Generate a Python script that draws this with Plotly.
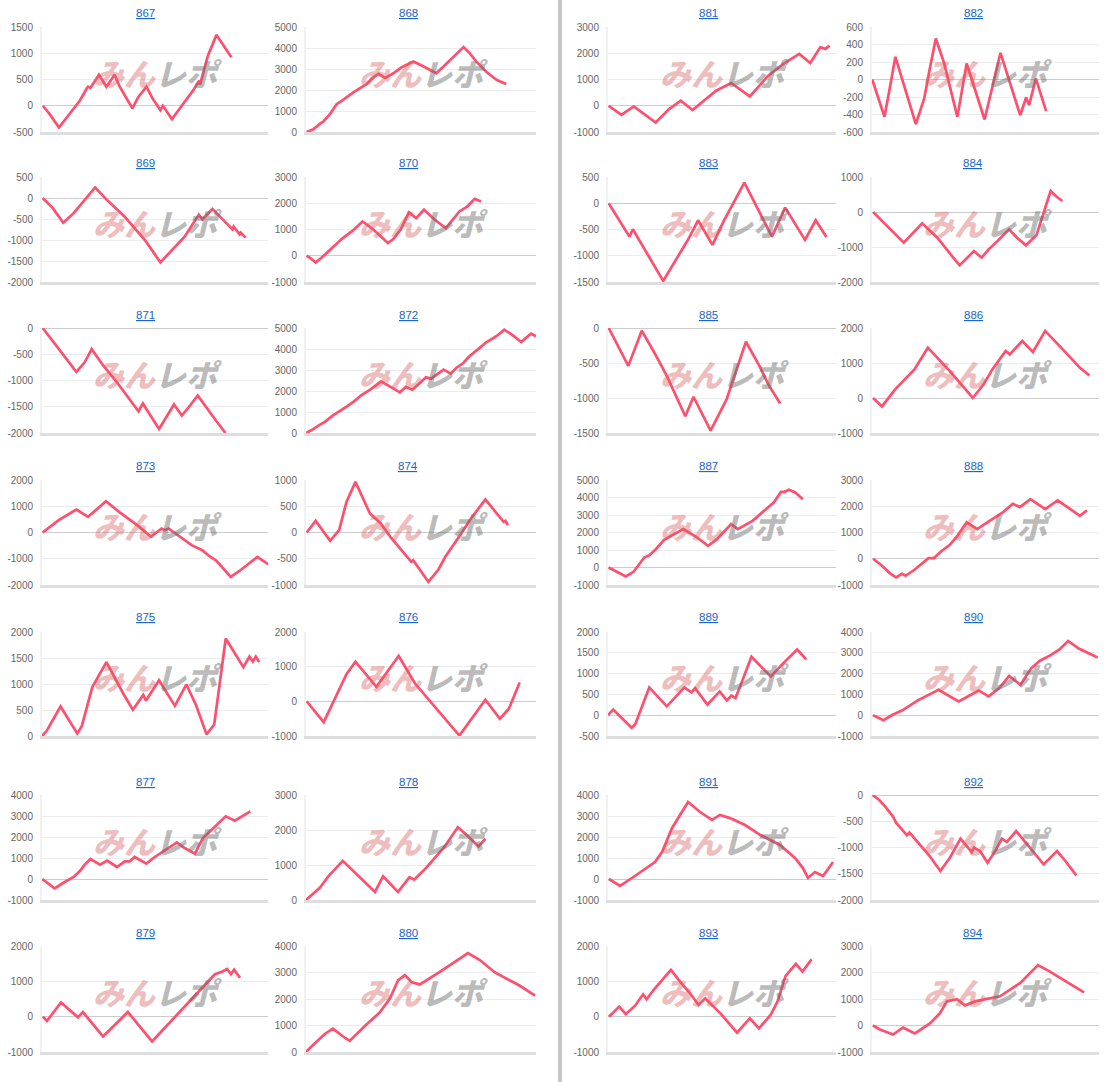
import plotly.graph_objects as go

W, H = 1116, 1082

# ---------------- data (x = play progress in % of the axis, y = coin difference) -------------
machines = list(range(867, 895))

x_867 = [0.4, 3.4, 7.5, 11.5, 16.7, 19.9, 20.4, 21.4, 25.2, 28.5, 32.1, 34.4, 37.0, 40.0, 42.5, 46.2, 49.1, 52.4, 53.5, 57.5, 62.4, 66.8, 69.5, 69.9, 73.4, 77.2, 83.8]
y_867 = [0, -160, -414, -190, 95, 338, 363, 338, 592, 363, 592, 363, 159, -51, 159, 363, 127, -83, 0, -255, 32, 287, 478, 401, 955, 1350, 924]

x_868 = [0.3, 3.2, 6.1, 7.5, 10.4, 13.3, 15.5, 18.4, 20.6, 23.5, 26.4, 29.3, 31.5, 34.4, 38.0, 41.6, 46.7, 51.8, 56.6, 59.8, 63.8, 68.5, 71.4, 74.3, 78.6, 83.0, 87.1]
y_868 = [0, 128, 400, 495, 847, 1326, 1486, 1725, 1885, 2093, 2284, 2604, 2764, 2572, 2796, 3083, 3355, 3083, 2796, 3115, 3562, 4042, 3722, 3323, 2843, 2476, 2284]

x_869 = [0.3, 4.7, 9.4, 14.1, 23.5, 28.6, 36.4, 45.8, 52.4, 58.4, 63.1, 69.4, 71.0, 75.4, 80.4, 84.3, 84.8, 87.4, 87.9, 90.1]
y_869 = [0, -236, -590, -354, 252, -39, -432, -1022, -1533, -1179, -920, -393, -511, -259, -527, -747, -684, -865, -826, -943]

x_870 = [0.3, 1.9, 4.2, 6.6, 11.3, 16.0, 19.9, 24.6, 29.4, 35.6, 38.0, 41.1, 44.7, 47.9, 51.3, 56.0, 60.8, 63.1, 66.7, 70.2, 73.3, 76.1]
y_870 = [0, -89, -254, -89, 292, 673, 927, 1308, 990, 483, 635, 990, 1651, 1435, 1752, 1371, 1054, 1308, 1689, 1879, 2171, 2070]

x_871 = [0.3, 15.2, 18.8, 22.0, 27.0, 33.3, 42.7, 44.6, 47.7, 51.8, 58.4, 61.9, 65.5, 68.9, 77.2, 81.2]
y_871 = [0, -837, -658, -403, -709, -1042, -1585, -1438, -1649, -1923, -1457, -1668, -1476, -1284, -1776, -2000]

x_872 = [0, 2.3, 5.4, 8.5, 11.6, 14.7, 17.8, 20.9, 24.0, 27.9, 32.6, 36.4, 40.8, 43.4, 46.2, 49.6, 52.1, 54.4, 59.8, 62.9, 65.3, 68.4, 70.7, 74.6, 78.4, 83.1, 86.2, 90.1, 93.6, 97.8, 100]
y_872 = [0, 127, 349, 556, 825, 1032, 1270, 1508, 1794, 2063, 2460, 2222, 1937, 2190, 2063, 2381, 2651, 2587, 3016, 2825, 3095, 3333, 3619, 3968, 4317, 4635, 4921, 4635, 4333, 4730, 4603]

x_873 = [0.3, 7.4, 15.2, 20.4, 28.3, 34.1, 42.7, 48.2, 52.9, 54.4, 56.0, 61.5, 66.2, 70.9, 74.1, 77.2, 80.4, 83.5, 88.2, 91.7, 95.3, 100]
y_873 = [0, 470, 876, 597, 1194, 787, 241, -165, 152, 89, 152, -190, -483, -673, -902, -1079, -1371, -1689, -1410, -1181, -927, -1206]

x_874 = [0.3, 4.2, 10.5, 14.4, 17.6, 21.5, 27.8, 32.5, 37.2, 45.8, 46.6, 53.2, 57.6, 60.7, 67.0, 71.7, 78.0, 85.9, 86.7, 87.8]
y_874 = [0, 222, -159, 44, 584, 965, 362, 171, -114, -559, -527, -940, -705, -451, -51, 267, 629, 203, 222, 140]

x_875 = [0, 2.0, 8.2, 15.6, 17.6, 22.3, 28.5, 36.3, 40.2, 44.8, 46.0, 51.8, 58.8, 63.9, 68.1, 72.8, 76.2, 81.3, 89.1, 91.8, 93.3, 94.6, 96.1]
y_875 = [0, 95, 568, 50, 189, 946, 1420, 789, 505, 789, 681, 1073, 580, 991, 599, 32, 221, 1874, 1325, 1527, 1432, 1527, 1420]

x_876 = [0.3, 7.7, 17.6, 21.5, 30.6, 40.3, 47.4, 66.7, 78.0, 84.3, 88.2, 92.9]
y_876 = [0, -600, 784, 1142, 416, 1307, 513, -987, 48, -503, -213, 542]

x_877 = [0.1, 2.7, 5.6, 9.3, 14.0, 16.7, 18.9, 21.4, 25.7, 28.8, 33.2, 36.6, 38.8, 41.0, 46.2, 49.9, 53.5, 56.5, 59.7, 63.1, 67.6, 71.2, 74.2, 77.9, 81.3, 85.3, 89.0, 92.2]
y_877 = [0, -190, -444, -190, 95, 365, 683, 952, 683, 873, 571, 841, 841, 1048, 730, 1048, 1317, 1508, 1746, 1476, 1206, 1952, 2270, 2635, 2984, 2778, 3016, 3222]

x_878 = [0, 6, 10, 16, 30, 33.5, 40, 45, 47, 52, 60, 66, 70, 75, 78]
y_878 = [0, 350, 700, 1120, 230, 680, 230, 650, 580, 900, 1500, 2080, 1850, 1530, 1750]

x_879 = [0.4, 2.2, 8.4, 15.9, 18.1, 27.0, 38.0, 48.7, 76.5, 79.6, 81.9, 83.6, 85.0, 87.6]
y_879 = [0, -120, 400, -20, 130, -560, 130, -700, 1200, 1270, 1350, 1200, 1330, 1100]

x_880 = [0, 2.6, 8.3, 11.7, 17, 19, 25.7, 32, 36.5, 40, 43, 46, 49.5, 54, 58, 62.6, 67, 70.4, 75.6, 82, 88.7, 93, 99.6]
y_880 = [0, 230, 690, 880, 530, 420, 990, 1490, 2020, 2700, 2900, 2630, 2550, 2780, 3010, 3280, 3540, 3730, 3470, 3010, 2700, 2500, 2130]

x_881 = [0.3, 5.9, 11.3, 20.9, 26.8, 31.9, 37.1, 43.0, 47.4, 54.0, 62.2, 70.3, 76.9, 83.9, 88.7, 93.1, 95.3, 97.2]
y_881 = [0, -344, -25, -637, -127, 191, -166, 255, 573, 866, 357, 1146, 1592, 1975, 1631, 2229, 2166, 2293]

x_882 = [0.1, 5.5, 8.2, 10.3, 19.3, 23.0, 25.2, 28.1, 31.8, 37.6, 41.7, 49.6, 56.6, 65.3, 67.9, 69.2, 72.2, 76.7]
y_882 = [0, -427, -46, 259, -510, -217, 88, 469, 183, -427, 183, -457, 305, -408, -206, -293, 11, -362]

x_883 = [0.3, 9.4, 10.9, 24.2, 35.2, 39.5, 45.8, 50.8, 59.8, 66.4, 71.9, 77.7, 86.4, 91.1, 95.8]
y_883 = [0, -635, -495, -1479, -686, -324, -794, -337, 394, -178, -635, -83, -698, -324, -641]

x_884 = [0.5, 14.0, 22.1, 28.8, 35.8, 38.6, 41.3, 44.9, 48.3, 51.4, 55.3, 60.4, 63.9, 67.8, 72.4, 78.7, 81.0, 83.8]
y_884 = [0, -876, -324, -733, -1305, -1524, -1352, -1114, -1305, -1067, -829, -495, -733, -952, -667, 600, 457, 314]

x_885 = [0.3, 8.9, 14.8, 20.3, 25.8, 33.9, 37.5, 45.0, 52.0, 60.5, 66.4, 70.3, 75.5]
y_885 = [0, -541, -38, -350, -685, -1260, -982, -1466, -1021, -196, -541, -805, -1078]

x_886 = [0.5, 4.4, 10.1, 18.7, 24.6, 34.3, 44.4, 49.1, 53.0, 58.9, 60.7, 66.2, 70.9, 76.3, 85.7, 91.6, 95.8]
y_886 = [0, -240, 240, 815, 1438, 767, 0, 384, 815, 1342, 1246, 1630, 1313, 1918, 1275, 863, 642]

x_887 = [0.3, 4.2, 7.8, 11.2, 15.9, 18.2, 21.3, 24.5, 29.1, 33.0, 38.5, 43.9, 47.8, 54.0, 56.9, 63.4, 69.6, 72.7, 75.9, 77.4, 79.4, 82.1, 85.5]
y_887 = [0, -248, -514, -248, 571, 705, 1086, 1562, 1905, 2190, 1771, 1238, 1619, 2476, 2190, 2667, 3371, 3714, 4324, 4324, 4438, 4286, 3905]

x_888 = [0.5, 3.9, 7.8, 10.6, 13.2, 14.8, 18.7, 23.4, 24.9, 27.3, 30.4, 34.3, 37.4, 41.7, 46.4, 49.8, 53.7, 57.6, 62.0, 65.1, 69.8, 76.3, 81.8, 87.2, 91.6, 94.7]
y_888 = [0, -229, -546, -711, -571, -648, -419, -102, 25, 25, 279, 533, 851, 1384, 1130, 1333, 1549, 1765, 2095, 1968, 2273, 1892, 2222, 1892, 1638, 1841]

x_889 = [0, 2.3, 10.4, 11.9, 18.1, 25.8, 33.5, 36.6, 38.2, 43.6, 49.0, 52.1, 54.1, 55.9, 57.5, 62.9, 71.4, 76.8, 83.0, 86.9]
y_889 = [0, 135, -302, -222, 667, 214, 667, 548, 651, 254, 571, 357, 468, 413, 627, 1405, 929, 1246, 1579, 1341]

x_890 = [0.5, 5.0, 9.3, 13.2, 20.2, 24.9, 29.3, 38.2, 47.0, 51.4, 56.1, 60.4, 65.4, 70.1, 74.0, 78.7, 82.6, 86.4, 91.1, 95.0, 99.4]
y_890 = [0, -238, 32, 222, 714, 984, 1222, 667, 1190, 905, 1302, 1889, 1460, 2254, 2619, 2889, 3159, 3571, 3206, 3000, 2778]

x_891 = [0.4, 5.3, 11.8, 20.6, 23.7, 28.1, 35.1, 40.4, 45.6, 49.1, 53.5, 60.1, 66.7, 75.4, 82, 85.5, 87.7, 90.8, 94.3, 98.7]
y_891 = [0, -333, 143, 810, 1286, 2430, 3670, 3190, 2810, 3050, 2900, 2570, 2100, 1620, 1000, 520, 50, 330, 140, 810]

x_892 = [0.3, 3.2, 6.2, 9.3, 10.6, 15.4, 16.5, 20.2, 25.4, 30.1, 34.3, 39.0, 43.9, 44.9, 47.6, 50.9, 54.9, 57.2, 59.4, 63.5, 69.7, 75.6, 81.5, 85.2, 90.0]
y_892 = [0, -95, -241, -413, -527, -768, -717, -908, -1162, -1448, -1194, -832, -1086, -1003, -1067, -1289, -1022, -832, -895, -686, -1003, -1321, -1067, -1257, -1530]

x_893 = [0.4, 4.9, 7.8, 11.8, 15.4, 16.9, 20.6, 27.6, 31.6, 36.0, 39.7, 42.6, 49.3, 56.6, 62.2, 66.2, 71.3, 74.3, 77.9, 82.4, 85.3, 89.3]
y_893 = [0, 284, 76, 303, 634, 492, 804, 1325, 993, 662, 331, 520, 95, -454, -47, -331, 47, 426, 1155, 1495, 1277, 1627]

x_894 = [0.4, 3.5, 9.3, 13.7, 18.9, 25.5, 29.9, 33.0, 37.4, 41.0, 45.4, 52.0, 56.4, 65.2, 73.1, 78.0, 83.7, 89.0, 93.4]
y_894 = [0, -150, -340, -76, -300, 76, 460, 910, 990, 760, 910, 1030, 1100, 1600, 2280, 2050, 1750, 1500, 1250]

# y-axis tick values (min, max, step) per machine
ticks_min = [-500, 0, -2000, -1000, -2000, 0, -2000, -1000, 0, -1000, -1000, 0, -1000, 0,
             -1000, -600, -1500, -2000, -1500, -1000, -1000, -1000, -500, -1000, -1000, -2000, -1000, -1000]
ticks_max = [1500, 5000, 500, 3000, 0, 5000, 2000, 1000, 2000, 2000, 4000, 3000, 2000, 4000,
             3000, 600, 500, 1000, 0, 2000, 5000, 3000, 2000, 4000, 4000, 0, 2000, 3000]
ticks_step = [500, 1000, 500, 1000, 500, 1000, 1000, 500, 500, 1000, 1000, 1000, 1000, 1000,
              1000, 200, 500, 1000, 500, 1000, 1000, 1000, 500, 1000, 1000, 500, 1000, 1000]

series = {
    867: (x_867, y_867), 868: (x_868, y_868), 869: (x_869, y_869), 870: (x_870, y_870),
    871: (x_871, y_871), 872: (x_872, y_872), 873: (x_873, y_873), 874: (x_874, y_874),
    875: (x_875, y_875), 876: (x_876, y_876), 877: (x_877, y_877), 878: (x_878, y_878),
    879: (x_879, y_879), 880: (x_880, y_880), 881: (x_881, y_881), 882: (x_882, y_882),
    883: (x_883, y_883), 884: (x_884, y_884), 885: (x_885, y_885), 886: (x_886, y_886),
    887: (x_887, y_887), 888: (x_888, y_888), 889: (x_889, y_889), 890: (x_890, y_890),
    891: (x_891, y_891), 892: (x_892, y_892), 893: (x_893, y_893), 894: (x_894, y_894),
}

# ---------------- layout geometry (pixels) ----------------
col_px = [(42, 268), (306, 536), (608, 836), (872, 1099)]
title_x_px = [145, 408, 708, 973]
row_px = [(27, 132), (177, 282), (328, 433), (480, 585), (632, 736), (795, 900), (946, 1052)]
title_y_px = [13, 163, 315, 466, 617, 782, 933]

LINE = '#ff4f6e'
FONT = 'Liberation Sans, Arial, sans-serif'

fig = go.Figure()
layout = {}
annotations = []

for i, m in enumerate(machines, start=1):
    k = i - 1
    if m <= 880:
        r, c = k // 2, k % 2
    else:
        r, c = (k - 14) // 2, 2 + (k - 14) % 2
    xs, ys = series[m]
    xa = 'x' if i == 1 else f'x{i}'
    ya = 'y' if i == 1 else f'y{i}'
    fig.add_trace(go.Scatter(x=xs, y=ys, mode='lines', xaxis=xa, yaxis=ya,
                             line=dict(color=LINE, width=2.7), hoverinfo='skip',
                             showlegend=False))
    x0, x1 = col_px[c]
    t, b = row_px[r]
    lo, hi, st = ticks_min[k], ticks_max[k], ticks_step[k]
    tv = list(range(lo, hi + 1, st))
    layout['xaxis' if i == 1 else f'xaxis{i}'] = dict(
        domain=[x0 / W, x1 / W], anchor=ya, range=[0, 100],
        showgrid=False, zeroline=False, showticklabels=False, ticks='',
        showline=True, linecolor='#dedede', linewidth=2.5, fixedrange=True)
    layout['yaxis' if i == 1 else f'yaxis{i}'] = dict(
        domain=[1 - b / H, 1 - t / H], anchor=xa, range=[lo, hi],
        tickvals=tv, ticktext=[str(v) for v in tv], ticks='',
        ticklabelstandoff=5,
        tickfont=dict(family=FONT, size=10, color='#666666'),
        showgrid=True, gridcolor='#ececec', gridwidth=1,
        zeroline=True, zerolinecolor='#cccccc', zerolinewidth=1,
        showline=True, linecolor='#f1f1f1', linewidth=2, fixedrange=True)
    annotations.append(dict(
        xref='paper', yref='paper', x=title_x_px[c] / W, y=1 - title_y_px[r] / H,
        xanchor='center', yanchor='middle', showarrow=False,
        text=f'<u>{m}</u>', font=dict(family=FONT, size=11.5, color='#1a66cc')))
    annotations.append(dict(
        xref=f'{xa} domain', yref=f'{ya} domain', x=0.51, y=0.57,
        xanchor='center', yanchor='middle', showarrow=False,
        text="<i><span style='color:rgba(214,96,96,0.42)'>みん</span>"
             "<span style='color:rgba(110,110,110,0.48)'>レポ</span></i>",
        font=dict(family='Noto Sans CJK JP', size=31, weight=900)))

fig.update_layout(**layout)
fig.update_layout(
    width=W, height=H, margin=dict(l=0, r=0, t=0, b=0, autoexpand=False),
    paper_bgcolor='white', plot_bgcolor='white',
    annotations=annotations,
    shapes=[dict(type='rect', xref='paper', yref='paper', x0=558 / W, x1=562 / W,
                 y0=0, y1=1, fillcolor='#c8c8c8', line=dict(width=0), layer='above')],
)

fig.write_html(
    'out.html',
    config={'displayModeBar': False},
    post_script="document.body.style.margin='0px';"
                "document.documentElement.style.overflow='hidden';"
                "document.body.style.overflow='hidden';")
